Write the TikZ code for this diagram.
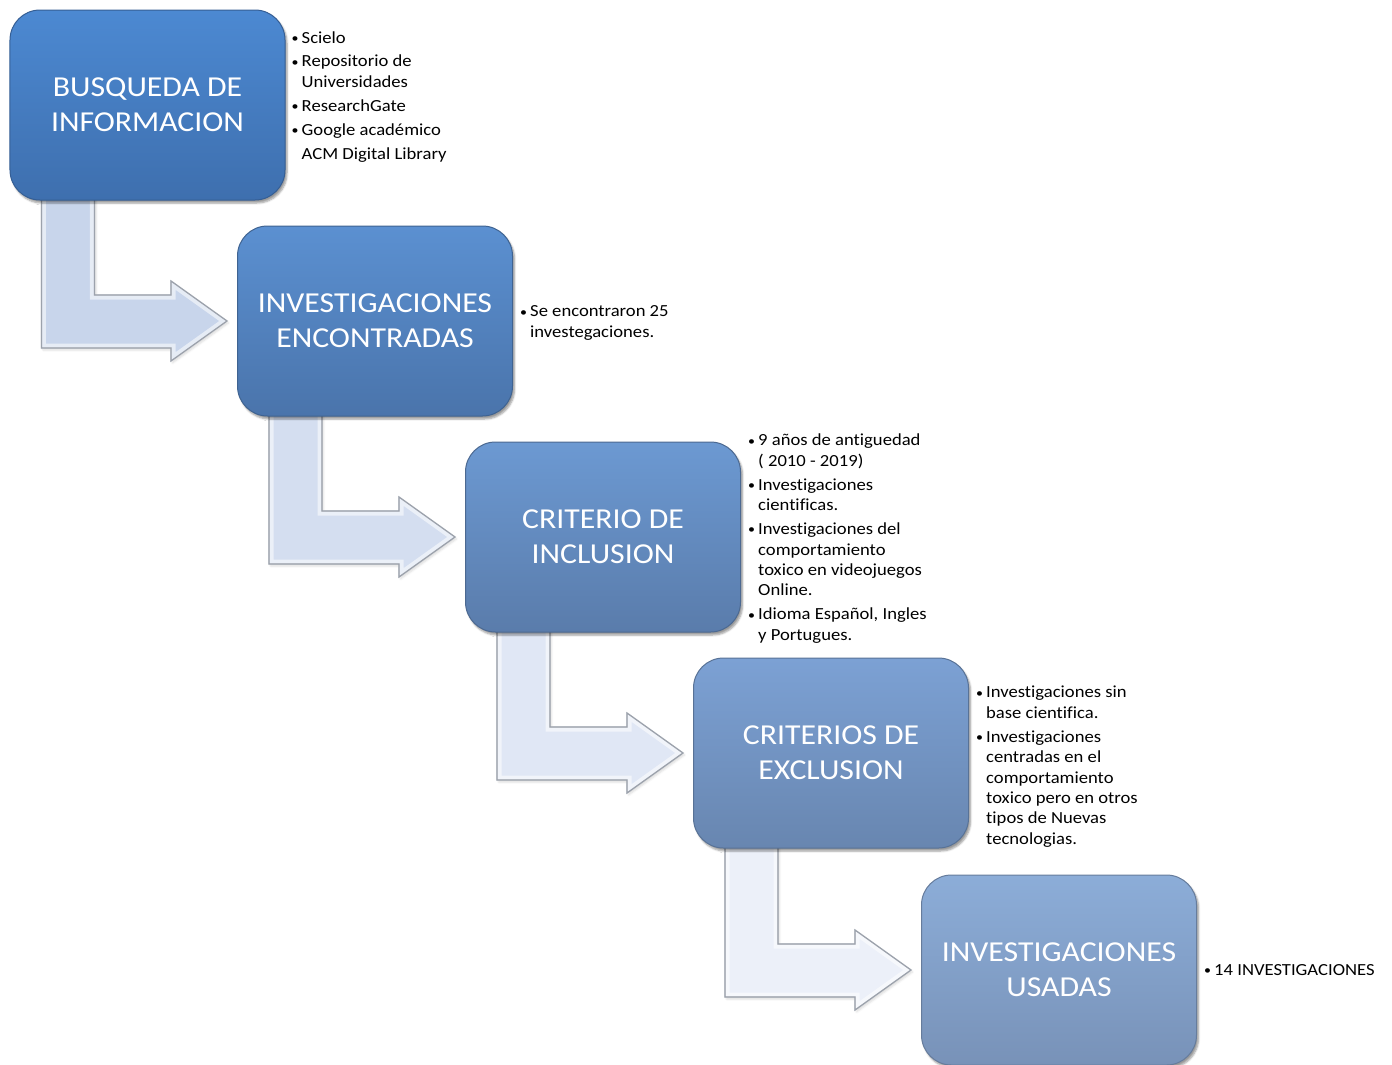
\documentclass[tikz,border=0pt]{standalone}
\usepackage{fontspec}
\setmainfont{Carlito}[FakeStretch=1.1, Ligatures=NoCommon]
\usetikzlibrary{calc,backgrounds,shadows.blur}

\definecolor{boxAt}{HTML}{4C89D2}
\definecolor{boxAb}{HTML}{3E6FAE}
\definecolor{boxBt}{HTML}{5B90D1}
\definecolor{boxBb}{HTML}{4A74AB}
\definecolor{boxCt}{HTML}{6C99D2}
\definecolor{boxCb}{HTML}{5A7CAB}
\definecolor{boxDt}{HTML}{7CA1D4}
\definecolor{boxDb}{HTML}{6886B0}
\definecolor{boxEt}{HTML}{8CADD8}
\definecolor{boxEb}{HTML}{7892B8}
\definecolor{arrowA}{HTML}{C8D5EB}
\definecolor{arrowB}{HTML}{D4DEF0}
\definecolor{arrowC}{HTML}{E0E7F5}
\definecolor{arrowD}{HTML}{ECF0F9}
\definecolor{arrowline}{HTML}{9CA2AC}

\tikzset{
  box/.style 2 args={rectangle, rounded corners=30bp, minimum width=275bp, minimum height=190bp,
    top color=#1, bottom color=#2, draw=#2!85!black, line width=1bp, text=white, align=center,
    font=\fontsize{29}{35}\selectfont,
    blur shadow={shadow xshift=2bp, shadow yshift=-3bp, shadow blur steps=5}},
  bentarrow/.style={fill=#1, draw=arrowline, line width=1.2bp, line join=miter,
    blur shadow={shadow xshift=1.5bp, shadow yshift=-2bp, shadow blur steps=4, shadow opacity=30}},
  bevel/.style={draw=white, draw opacity=0.55, line width=9bp, line join=miter},
  notes/.style={anchor=west, inner sep=0pt, font=\fontsize{17}{20.5}\selectfont, align=left}
}
\newcommand{\bul}{\makebox[10bp][l]{\raisebox{0.8bp}{\scalebox{0.75}{\textbullet}}}}

\begin{document}
\begin{tikzpicture}[x=1bp,y=-1bp]
\useasboundingbox (0,0) rectangle (1392,1064);
\clip (0,0) rectangle (1392,1064);

% pasos
\node[box={boxAt}{boxAb}] (busqueda) at (147.5,105) {BUSQUEDA DE\\INFORMACION};
\node[box={boxBt}{boxBb}] (encontradas) at (375,321) {INVESTIGACIONES\\ENCONTRADAS};
\node[box={boxCt}{boxCb}] (inclusion) at (603,537) {CRITERIO DE\\INCLUSION};
\node[box={boxDt}{boxDb}] (exclusion) at (831,753) {CRITERIOS DE\\EXCLUSION};
\node[box={boxEt}{boxEb}] (usadas) at (1059,970) {INVESTIGACIONES\\USADAS};

% flechas
\begin{scope}[on background layer]
\foreach \a/\b/\c in {busqueda/encontradas/arrowA, encontradas/inclusion/arrowB,
                      inclusion/exclusion/arrowC, exclusion/usadas/arrowD}{
  \path[bentarrow=\c, postaction={bevel}, postaction={draw=arrowline, line width=1.2bp}]
    ($(\a.south west)+(32,-5)$) -- ($(\a.south west)+(85,-5)$)
    -- ($(\a.south west |- \b.west)+(85,-26)$) -- ($(\b.west)+(-66,-26)$)
    -- ($(\b.west)+(-66,-40)$) -- ($(\b.west)+(-10,0)$) -- ($(\b.west)+(-66,40)$)
    -- ($(\b.west)+(-66,27)$) -- ($(\a.south west |- \b.west)+(32,27)$) -- cycle;
}
\end{scope}

% notas
\node[notes] (fuentes) at ($(busqueda.east)+(6,-8)$) {\begin{tabular}{@{}l@{}l@{}}
  \bul & Scielo\\[3.5bp]
  \bul & Repositorio de\\ & Universidades\\[3.5bp]
  \bul & ResearchGate\\[3.5bp]
  \bul & Google académico\\[3.5bp]
       & ACM Digital Library
  \end{tabular}};
\node[notes] (total) at ($(encontradas.east)+(7,2)$) {\begin{tabular}{@{}l@{}l@{}}
  \bul & Se encontraron 25\\ & investegaciones.
  \end{tabular}};
\node[notes] (incluidas) at ($(inclusion.east)+(7,2)$) {\begin{tabular}{@{}l@{}l@{}}
  \bul & 9 años de antiguedad\\ & ( 2010 - 2019)\\[3.5bp]
  \bul & Investigaciones\\ & cientificas.\\[3.5bp]
  \bul & Investigaciones del\\ & comportamiento\\ & toxico en videojuegos\\ & Online.\\[3.5bp]
  \bul & Idioma Español, Ingles\\ & y Portugues.
  \end{tabular}};
\node[notes] (excluidas) at ($(exclusion.east)+(7,14)$) {\begin{tabular}{@{}l@{}l@{}}
  \bul & Investigaciones sin\\ & base cientifica.\\[3.5bp]
  \bul & Investigaciones\\ & centradas en el\\ & comportamiento\\ & toxico pero en otros\\ & tipos de Nuevas\\ & tecnologias.
  \end{tabular}};
\node[notes] (final) at ($(usadas.east)+(7,1)$) {\begin{tabular}{@{}l@{}l@{}}
  \bul & 14 INVESTIGACIONES
  \end{tabular}};
\end{tikzpicture}
\end{document}
